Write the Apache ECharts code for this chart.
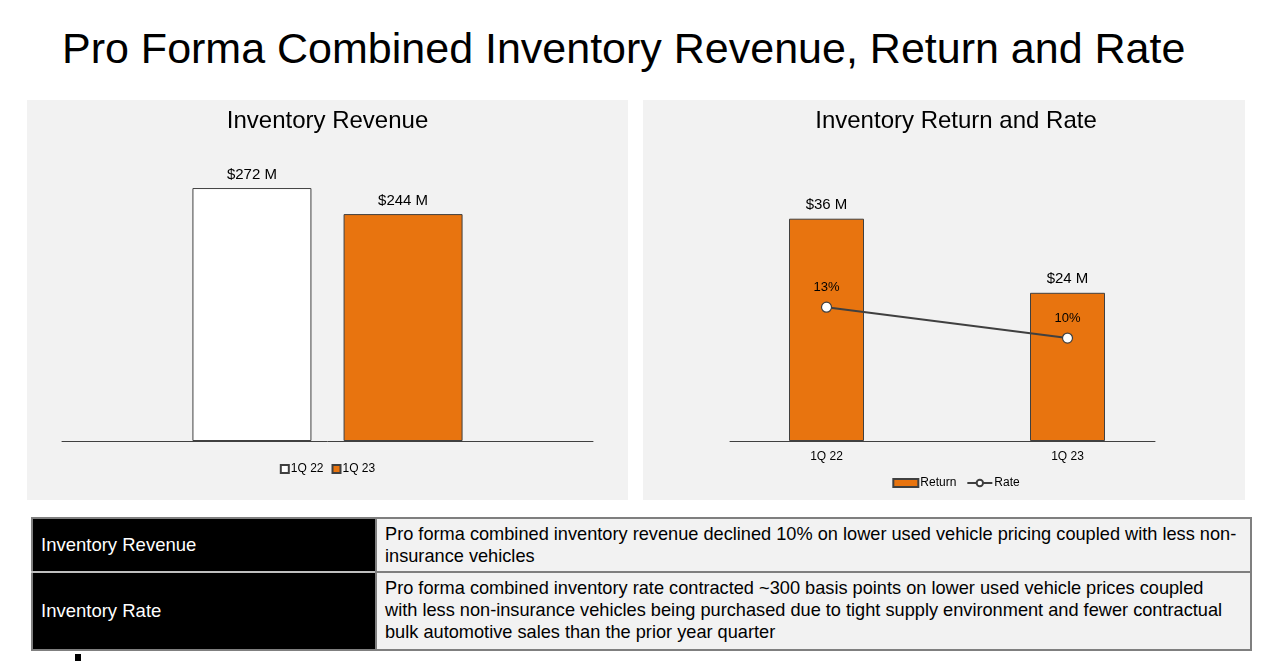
<!DOCTYPE html>
<html>
<head>
<meta charset="utf-8">
<script src="https://cdn.jsdelivr.net/npm/echarts@6/dist/echarts.min.js"></script>
<style>
  html, body { margin:0; padding:0; background:#fff; width:1280px; height:661px; overflow:hidden; font-family:"Liberation Sans", Arial, sans-serif; }
  #title { position:absolute; left:62px; top:24px; font-size:43px; color:#000; white-space:nowrap; }
  .panel { position:absolute; background:#f2f2f2; }
  #p1 { left:27px; top:100px; width:601px; height:400px; }
  #p2 { left:643px; top:100px; width:602px; height:400px; }
  #c1 { position:absolute; left:27px; top:100px; width:601px; height:400px; }
  #c2 { position:absolute; left:643px; top:100px; width:626px; height:400px; }
  table { position:absolute; left:31px; top:517px; width:1221px; table-layout:fixed; border-collapse:collapse; border:2px solid #7f7f7f; font-size:18.5px; }
  td { padding:0; }
  td.h { background:#000; color:#fff; padding-left:8px; vertical-align:middle; white-space:nowrap; }
  td.t { background:#f2f2f2; color:#000; padding:4px 0 0 8px; line-height:22px; white-space:nowrap; vertical-align:top; border-left:2px solid #7f7f7f; overflow:hidden; font-size:18.2px; }
  tr.r1 td { height:48px; }
  tr.r2 td { height:72px; }
  tr.r2 td.h { border-top:2px solid #bfbfbf; }
  tr.r2 td.t { border-top:2px solid #7f7f7f; }
  #mark { position:absolute; left:75px; top:654px; width:6px; height:7px; background:#000; }
</style>
</head>
<body>
<div id="title">Pro Forma Combined Inventory Revenue, Return and Rate</div>
<div id="p1" class="panel"></div>
<div id="p2" class="panel"></div>
<div id="c1"></div>
<div id="c2"></div>
<table>
  <colgroup><col style="width:344px"><col></colgroup>
  <tr class="r1"><td class="h">Inventory Revenue</td><td class="t">Pro forma combined inventory revenue declined 10% on lower used vehicle pricing coupled with less non-<br>insurance vehicles</td></tr>
  <tr class="r2"><td class="h">Inventory Rate</td><td class="t">Pro forma combined inventory rate contracted ~300 basis points on lower used vehicle prices coupled<br>with less non-insurance vehicles being purchased due to tight supply environment and fewer contractual<br>bulk automotive sales than the prior year quarter</td></tr>
</table>
<div id="mark"></div>
<script>
// ---- data ----
const revenueSeriesNames = ['1Q 22', '1Q 23'];
const revenueValues = [272, 244];           // $M
const returnCategories = ['1Q 22', '1Q 23'];
const returnValues = [36, 24];              // $M
const rateValues = [13, 10];                // %

const FONT = '"Liberation Sans", Arial, sans-serif';
const ORANGE = '#E8740F';
const EDGE = '#404040';

// ---- left chart: Inventory Revenue ----
const c1 = echarts.init(document.getElementById('c1'), null, {renderer:'canvas'});
c1.setOption({
  backgroundColor: 'transparent',
  animation: false,
  textStyle: { fontFamily: FONT },
  title: { text: 'Inventory Revenue', left: 'center', top: 4,
           textStyle: { fontFamily: FONT, fontSize: 24, fontWeight: 'normal', color: '#000' } },
  legend: { top: 358, left: 'center', itemWidth: 8, itemHeight: 8, itemGap: 8, icon: 'rect',
            textStyle: { fontFamily: FONT, fontSize: 12, color: '#000', padding: [0,0,0,-3] },
            data: revenueSeriesNames },
  grid: { left: 35, right: 35, top: 62, bottom: 59 },
  xAxis: { type: 'category', data: ['Inventory Revenue'],
           axisLine: { lineStyle: { color: EDGE, width: 1 } }, axisTick: { show: false }, axisLabel: { show: false } },
  yAxis: { type: 'value', min: 0, max: 300, show: false },
  series: revenueSeriesNames.map((name, i) => ({
    name, type: 'bar', barWidth: 119, barGap: '27%',
    data: [revenueValues[i]],
    itemStyle: { color: i === 0 ? '#ffffff' : ORANGE, borderColor: EDGE, borderWidth: 1 },
    label: { show: true, position: 'top', distance: 6, fontFamily: FONT, fontSize: 15, color: '#000',
             formatter: p => '$' + p.value + ' M' }
  }))
});

// ---- right chart: Inventory Return and Rate ----
const c2 = echarts.init(document.getElementById('c2'), null, {renderer:'canvas'});
c2.setOption({
  backgroundColor: 'transparent',
  animation: false,
  textStyle: { fontFamily: FONT },
  title: { text: 'Inventory Return and Rate', left: 'center', top: 4,
           textStyle: { fontFamily: FONT, fontSize: 24, fontWeight: 'normal', color: '#000' } },
  legend: { top: 372, left: 'center', itemWidth: 25, itemHeight: 8, itemGap: 10,
            textStyle: { fontFamily: FONT, fontSize: 12, color: '#000', padding: [0,0,0,-3] },
            data: [{ name: 'Return', icon: 'rect' }, { name: 'Rate' }] },
  grid: [
    { left: 63, right: 81, top: 94, bottom: 59 },
    { left: 87, right: 114, top: 94, bottom: 59 }
  ],
  xAxis: [
    { type: 'category', gridIndex: 0, data: returnCategories,
      axisLine: { show: false }, axisTick: { show: false },
      axisLabel: { fontFamily: FONT, fontSize: 12, color: '#000', margin: 10 } },
    { type: 'category', gridIndex: 1, data: returnCategories,
      axisLine: { lineStyle: { color: EDGE, width: 1 } }, axisTick: { show: false }, axisLabel: { show: false } }
  ],
  yAxis: [
    { type: 'value', gridIndex: 0, min: 0, max: 40, show: false },
    { type: 'value', gridIndex: 0, min: 0, max: 24, show: false },
    { type: 'value', gridIndex: 1, min: 0, max: 40, show: false }
  ],
  series: [
    { name: 'Return', type: 'bar', xAxisIndex: 0, yAxisIndex: 0, barWidth: 75,
      data: returnValues,
      itemStyle: { color: ORANGE, borderColor: EDGE, borderWidth: 1 },
      label: { show: true, position: 'top', distance: 6, fontFamily: FONT, fontSize: 15, color: '#000',
               formatter: p => '$' + p.value + ' M' } },
    { name: 'Rate', type: 'line', xAxisIndex: 0, yAxisIndex: 1,
      data: rateValues,
      symbol: 'circle', symbolSize: 10,
      lineStyle: { color: '#404040', width: 2 },
      itemStyle: { color: '#ffffff', borderColor: '#404040', borderWidth: 1.2 },
      label: { show: true, position: 'top', distance: 8, fontFamily: FONT, fontSize: 13, color: '#000',
               formatter: p => p.value + '%' } }
  ]
});
</script>
</body>
</html>
